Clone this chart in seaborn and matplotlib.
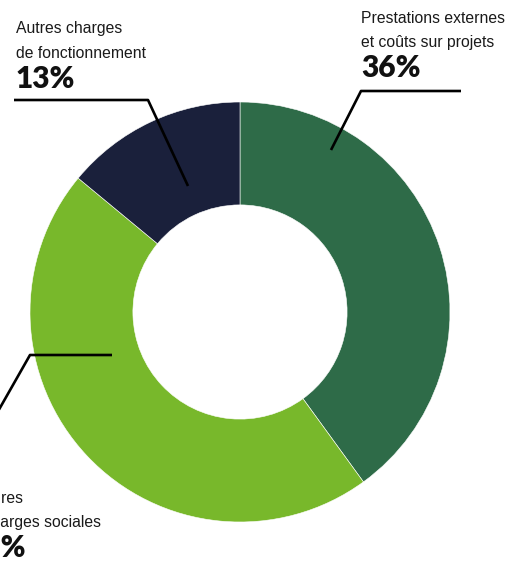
import matplotlib
matplotlib.use("Agg")
import matplotlib.pyplot as plt
import seaborn as sns

############################################################## Data

categories = ["Prestations externes\net coûts sur projets",
              "Salaires\net charges sociales",
              "Autres charges\nde fonctionnement"]
shares = [40, 46, 14]
# percentages printed in the labels
label_pcts = ["36%", "51%", "13%"]
colors = ["#2e6b48", "#78b82b", "#1a203b"]

############################################################## Plot

sns.set_theme(style="white")
label_font = ["Liberation Sans", "DejaVu Sans"]
pct_font = ["Lato", "DejaVu Sans"]

W, H = 509, 566
fig = plt.figure(figsize=(W / 100, H / 100), dpi=100)
fig.patch.set_facecolor("white")
# ring centre at (240, 312) px, outer radius 210 px
ax = fig.add_axes([30 / W, (H - 522) / H, 420 / W, 420 / H])
ax.pie(shares, colors=colors, startangle=90, counterclock=False, radius=1,
       wedgeprops=dict(width=0.49, edgecolor="white", linewidth=0.4))
ax.set_xlim(-1, 1)
ax.set_ylim(-1, 1)
ax.axis("off")


def px(x, y):
    return (x - 240) / 210, (312 - y) / 210


def leader(points):
    xs, ys = zip(*[px(x, y) for x, y in points])
    ax.plot(xs, ys, color="black", lw=1.9, clip_on=False, solid_capstyle="butt")


def label(x, base1, base2, base3, text, pct):
    l1, l2 = text.split("\n")
    for t, b in ((l1, base1), (l2, base2)):
        ax.text(*px(x, b), t, ha="left", va="baseline", fontsize=11.3,
                family=label_font, color="#1a1a1a", clip_on=False)
    ax.text(*px(x, base3), pct, ha="left", va="baseline", fontsize=21.5,
            family=pct_font, fontweight="heavy", color="#111111", clip_on=False)


leader([(331, 150), (361, 91), (461, 91)])
label(361, 23, 47, 77, categories[0], label_pcts[0])

leader([(188, 186), (148, 100), (14, 100)])
label(16, 33, 58, 88, categories[2], label_pcts[2])

leader([(112, 355), (30, 355), (-20, 443)])
label(-34, 503, 527, 557, categories[1], label_pcts[1])

plt.savefig("out.png", dpi=100, facecolor="white")
